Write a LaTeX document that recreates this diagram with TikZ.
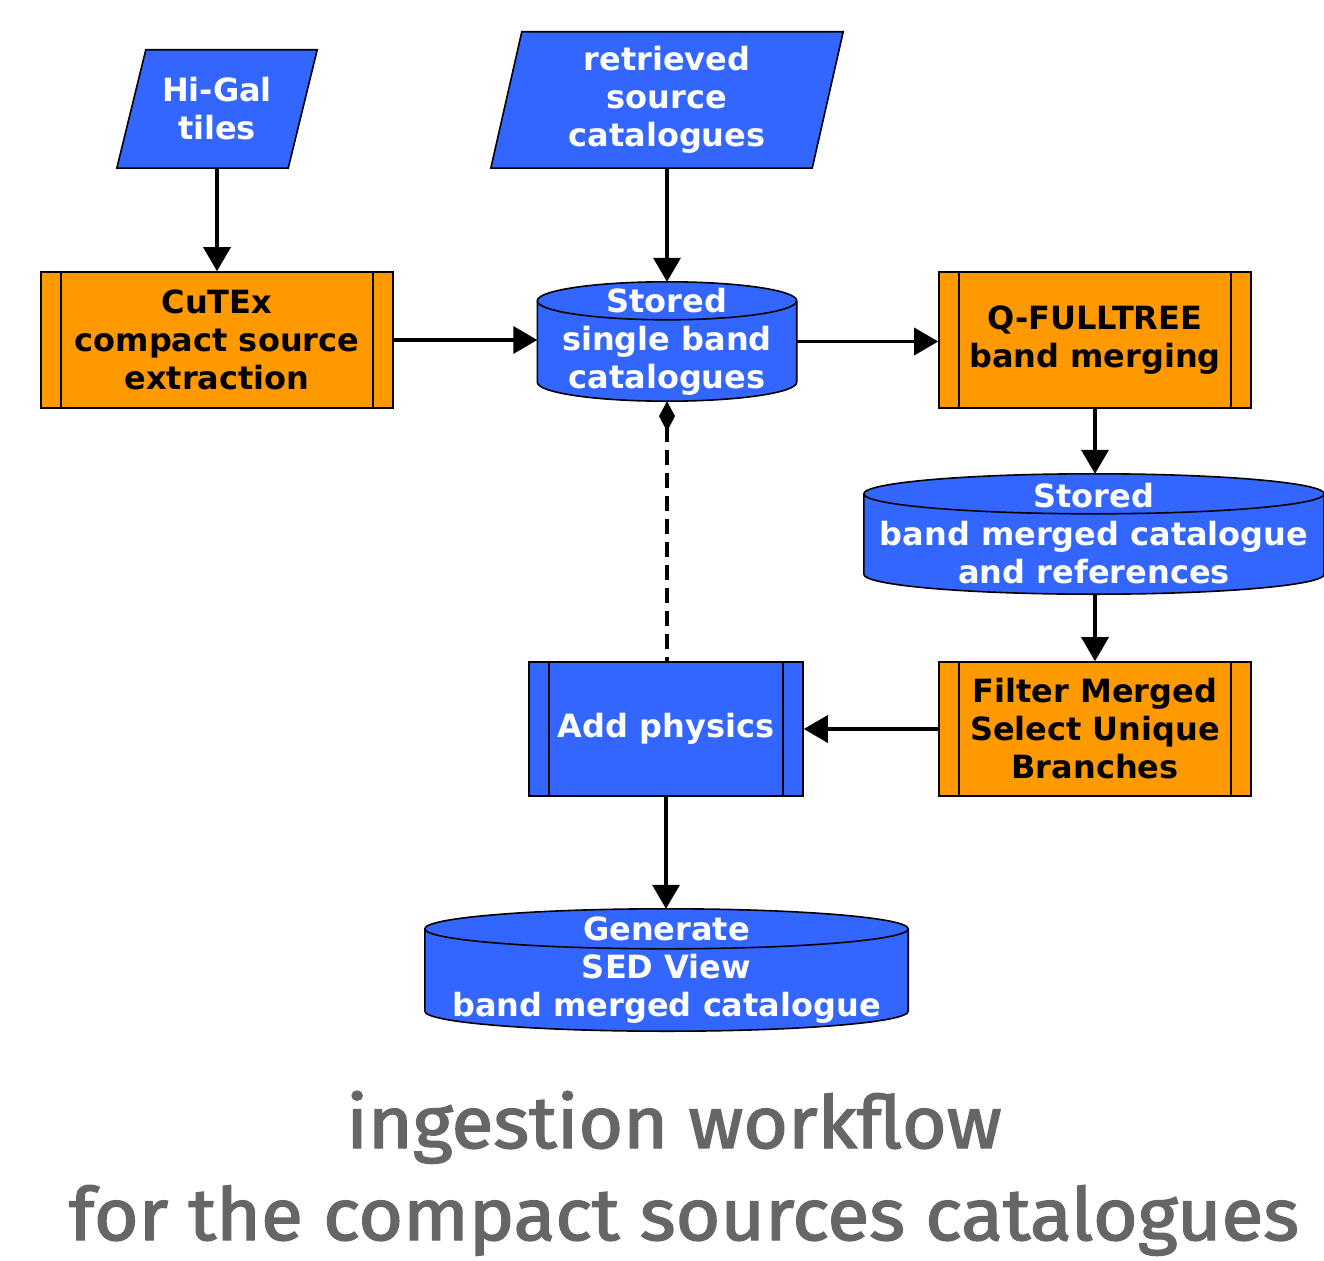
\documentclass[tikz,border=0pt]{standalone}
\usepackage{fontspec}
\newfontfamily\dejavu{DejaVu Sans}
\newfontfamily\titlefont{Fira Sans}[FakeBold=2]
\usetikzlibrary{arrows.meta,backgrounds,calc}
\definecolor{fblue}{HTML}{3366FF}
\definecolor{forange}{HTML}{FF9900}
\definecolor{tgray}{HTML}{666666}
\newcommand\drawpara[2]{\draw[blueshape] ([xshift=#2pt]#1.north west) -- (#1.north east) -- ([xshift=-#2pt]#1.south east) -- (#1.south west) -- cycle;}
\newcommand\drawcyl[2]{%
  \draw[blueshape] let \p1=(#1.north west), \p2=(#1.south east), \n1={(\x2-\x1)/2} in
    (\x1,\y1-#2pt) arc[start angle=180,end angle=0,x radius=\n1,y radius=#2pt]
    -- (\x2,\y2+#2pt) arc[start angle=0,end angle=-180,x radius=\n1,y radius=#2pt] -- cycle;
  \draw[line width=1.6pt] let \p1=(#1.north west), \p2=(#1.south east), \n1={(\x2-\x1)/2} in
    (\x1,\y1-#2pt) arc[start angle=180,end angle=360,x radius=\n1,y radius=#2pt];}
\begin{document}
\begin{tikzpicture}[x=1pt,y=-1pt,
  txt/.style={rectangle, inner sep=0pt, align=center, font=\dejavu\bfseries\fontsize{32}{38}\selectfont},
  wtxt/.style={txt, text=white},
  blueshape/.style={fill=fblue, draw=black, line width=1.6pt},
  barlines/.style={path picture={\draw[line width=1.6pt]
     ([xshift=20pt]path picture bounding box.north west) -- ([xshift=20pt]path picture bounding box.south west)
     ([xshift=-20pt]path picture bounding box.north east) -- ([xshift=-20pt]path picture bounding box.south east);}},
  procbox/.style={txt, draw=black, line width=1.6pt, fill=forange, barlines},
  blueproc/.style={wtxt, draw=black, line width=1.6pt, fill=fblue, barlines},
  conn/.style={line width=3.5pt, -{Triangle[length=24pt,width=27pt]}},
  depconn/.style={line width=3.5pt, dash pattern=on 15pt off 8pt, {Diamond[length=30pt,width=16pt]}-},
  ttl/.style={inner sep=0pt, anchor=base, text=tgray, font=\titlefont\fontsize{73}{80}\selectfont}
]
\useasboundingbox (0,0) rectangle (1324,1260);

\node[wtxt, minimum width=200pt, minimum height=118pt] (higal) at (217,109) {Hi-Gal\\tiles};
\node[wtxt, minimum width=352pt, minimum height=136pt] (retr) at (667,100) {retrieved\\source\\catalogues};
\node[procbox, minimum width=352pt, minimum height=136pt] (cutex) at (217,340) {CuTEx\\compact source\\extraction};
\node[wtxt, minimum width=259pt, minimum height=119pt] (cyl1) at (667,341.5) {Stored\\single band\\catalogues};
\node[procbox, minimum width=312pt, minimum height=136pt] (qf) at (1095,340) {Q-FULLTREE\\band merging};
\node[wtxt, minimum width=460pt, minimum height=120pt] (cyl2) at (1094,534) {Stored\\band merged catalogue\\and references};
\node[procbox, minimum width=312pt, minimum height=134pt] (filter) at (1095,729) {Filter Merged\\Select Unique\\Branches};
\node[blueproc, minimum width=274pt, minimum height=134pt] (addp) at (666,729) {Add physics};
\node[wtxt, minimum width=483pt, minimum height=122pt] (cyl3) at (666.5,970) {Generate\\SED View\\band merged catalogue};

\node[ttl] (title1) at (674,1148) {\scalebox{1.05}[1]{ingestion workflow}};
\node[ttl] (title2) at (684,1240) {\scalebox{1.05}[1]{for the compact sources catalogues}};

\begin{pgfonlayer}{background}
  \fill[white] (0,0) rectangle (1324,1260);
  \drawpara{higal}{29}
  \drawpara{retr}{31}
  \drawcyl{cyl1}{19}
  \drawcyl{cyl2}{20}
  \drawcyl{cyl3}{20}
\end{pgfonlayer}

\draw[conn] (higal.south) -- (cutex.north);
\draw[conn] (retr.south) -- (cyl1.north);
\draw[conn] (cutex.east) -- (cutex.east -| cyl1.west);
\draw[conn] (cyl1.east) -- (cyl1.east -| qf.west);
\draw[conn] (qf.south) -- (qf.south |- cyl2.north);
\draw[conn] (qf.south |- cyl2.south) -- (filter.north);
\draw[conn] (filter.west) -- (addp.east);
\draw[conn] (addp.south) -- (addp.south |- cyl3.north);
\draw[depconn] (cyl1.south) -- (cyl1.south |- addp.north);
\end{tikzpicture}
\end{document}
